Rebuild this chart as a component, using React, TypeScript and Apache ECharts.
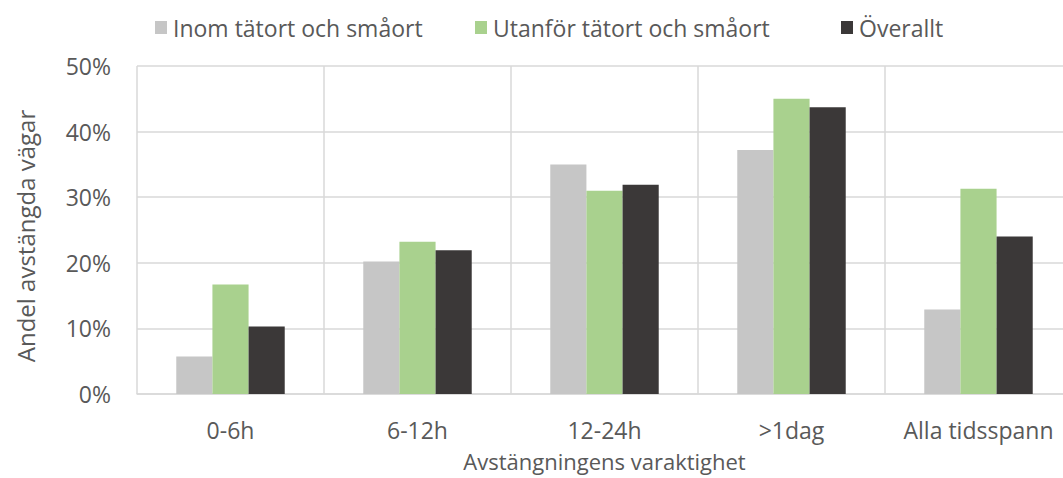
import React, { useEffect, useRef } from "react";
import * as echarts from "echarts";

const categories = ["0-6h", "6-12h", "12-24h", ">1dag", "Alla tidsspann"];
const seriesNames = ["Inom tätort och småort", "Utanför tätort och småort", "Överallt"];
const inom = [5.7, 20.2, 35.0, 37.2, 12.9];
const utanfor = [16.7, 23.2, 31.0, 45.0, 31.3];
const overallt = [10.3, 21.9, 31.9, 43.7, 24.0];
const colors = ["#c6c6c6", "#a9d18e", "#3b3838"];

const FONT = "Open Sans";

export default function App() {
  const ref = useRef<HTMLDivElement>(null);
  useEffect(() => {
    if (!ref.current) return;
    const chart = echarts.init(ref.current, null, { renderer: "svg" });
    const values = [inom, utanfor, overallt];
    const legendLefts = [150, 470, 836];
    chart.setOption({
      animation: false,
      backgroundColor: "#ffffff",
      legend: seriesNames.map((n, i) => ({
        data: [n],
        left: legendLefts[i],
        top: 11,
        itemWidth: 12,
        itemHeight: 13,
        itemGap: 6,
        icon: "rect",
        textStyle: { fontFamily: FONT, fontSize: 23, color: "#595959", padding: [0, 0, 0, 1] },
      })),
      grid: {
        left: 137,
        width: 935,
        top: 66,
        height: 328,
        containLabel: false,
        outerBoundsMode: "none",
      },
      xAxis: {
        type: "category",
        data: categories,
        name: "Avstängningens varaktighet",
        nameLocation: "middle",
        nameGap: 56,
        nameTextStyle: { fontFamily: FONT, fontSize: 22, color: "#595959" },
        axisLine: { show: true, lineStyle: { color: "#d9d9d9", width: 1.5 } },
        axisTick: { show: false, interval: 0 },
        axisLabel: { interval: 0, fontFamily: FONT, fontSize: 23, color: "#595959", margin: 24 },
        splitLine: { show: true, interval: 0, lineStyle: { color: "#d9d9d9", width: 1.5 } },
      },
      yAxis: {
        type: "value",
        min: 0,
        max: 50,
        interval: 10,
        name: "Andel avstängda vägar",
        nameLocation: "middle",
        nameGap: 100,
        nameTextStyle: { fontFamily: FONT, fontSize: 24, color: "#595959", padding: [0, 12, 0, 0] },
        axisLine: { show: false },
        axisTick: { show: false },
        axisLabel: { fontFamily: FONT, fontSize: 23, color: "#595959", margin: 26, formatter: "{value}%" },
        splitLine: { show: true, lineStyle: { color: "#d9d9d9", width: 1.5 } },
      },
      series: seriesNames.map((n, i) => ({
        name: n,
        type: "bar",
        data: values[i],
        barGap: "0%",
        barCategoryGap: "42%",
        itemStyle: { color: colors[i] },
      })),
    });
    return () => chart.dispose();
  }, []);
  return (
    <div
      ref={ref}
      style={{ position: "absolute", left: 0, top: 0, width: 1063, height: 478 }}
    />
  );
}
